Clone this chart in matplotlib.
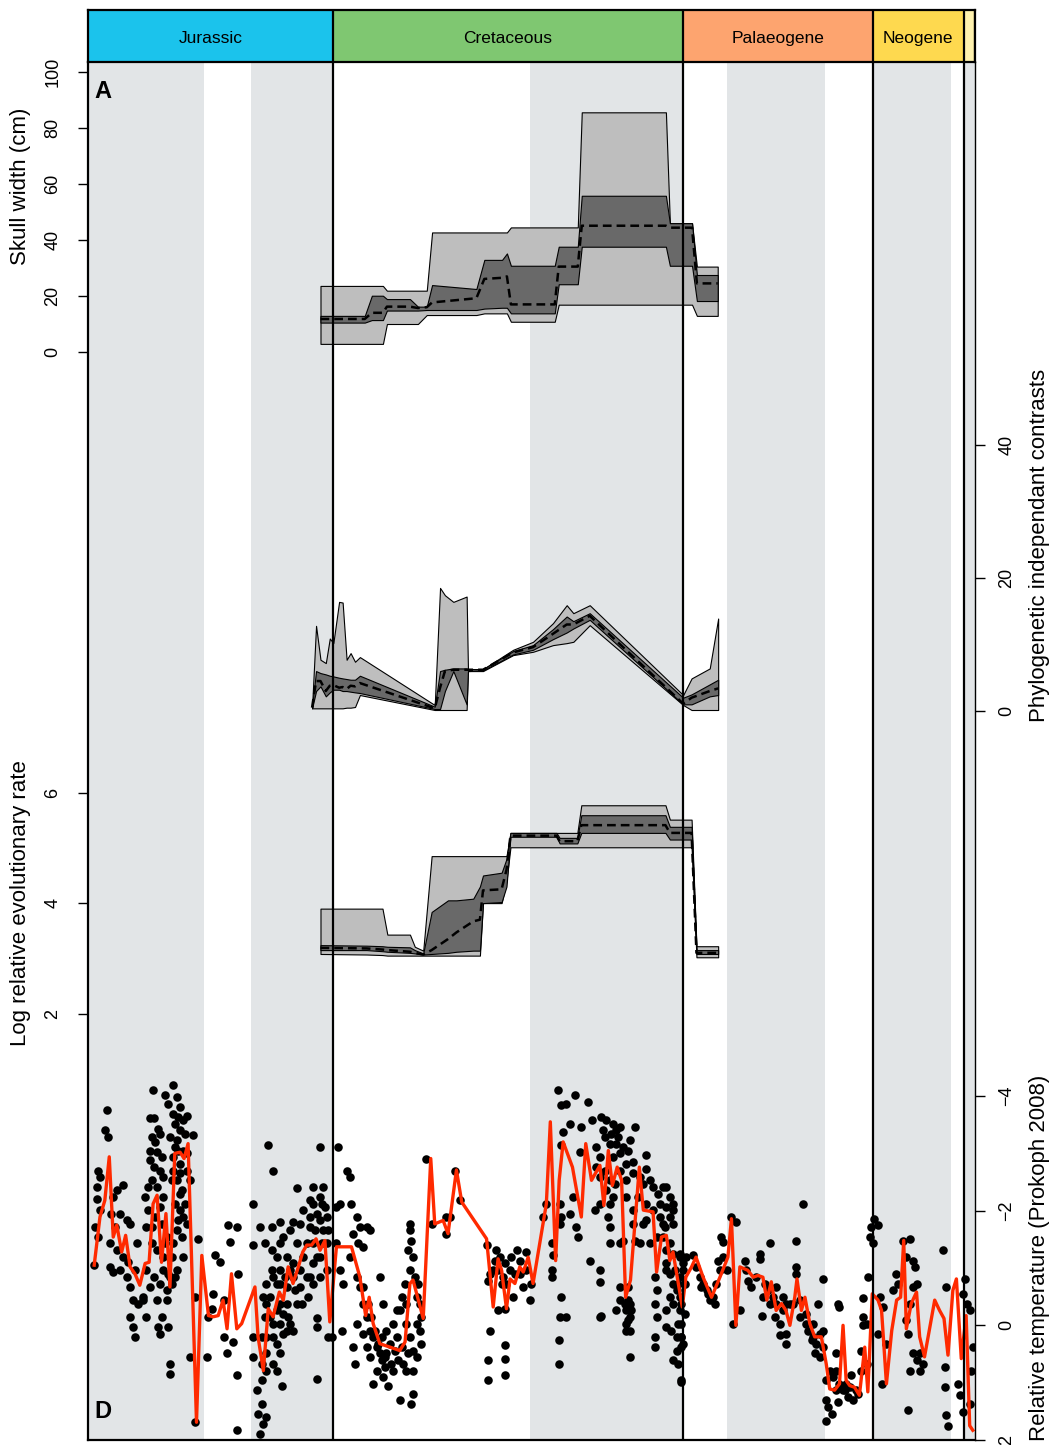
#%% Import the required libraries
import numpy as np
import matplotlib
matplotlib.use('Agg')
import matplotlib.pyplot as plt

plt.rcParams['font.family'] = ['Liberation Sans', 'DejaVu Sans']

#%% Time scale (Ma)
period_names = ['Jurassic', 'Cretaceous', 'Palaeogene', 'Neogene', '']
period_start = [201.3, 145.0, 66.0, 23.03, 2.58]
period_end = [145.0, 66.0, 23.03, 2.58, 0.0]
period_colors = ['#1BC3EC', '#7FC771', '#FDA46F', '#FED94F', '#FFF2AE']

# epoch boundaries, every other epoch is shaded
epoch_bounds = [201.3, 174.1, 163.5, 145.0, 100.5, 66.0, 56.0, 33.9, 23.03, 5.333, 2.58, 0.0]

#%% Panel A: skull width (cm)
a_age = [147.8, 137.8, 136.2, 133.7, 132.8, 127.6, 125.8, 123.8, 122.6, 112.6, 110.8, 106.8,
         105.7, 104.8, 94.9, 94.0, 89.7, 88.8, 69.8, 68.9, 63.9, 62.8, 58.1]
a_outer_hi = [23.6, 23.6, 23.6, 23.6, 21.9, 21.9, 21.9, 21.9, 42.7, 42.7, 42.7, 42.7,
              42.7, 44.5, 44.5, 44.5, 44.5, 85.6, 85.6, 46.0, 46.0, 30.5, 30.5]
a_outer_lo = [2.9, 2.9, 2.9, 2.9, 10.0, 10.0, 10.0, 13.2, 13.2, 13.2, 13.8, 13.8,
              13.8, 10.8, 10.8, 16.9, 16.9, 16.9, 16.9, 16.9, 16.9, 12.9, 12.9]
a_inner_hi = [12.9, 12.9, 20.1, 20.1, 18.9, 18.9, 16.2, 16.2, 23.9, 22.5, 32.9, 32.9,
              35.2, 30.8, 30.8, 37.6, 37.6, 55.8, 55.8, 46.0, 46.0, 27.5, 27.5]
a_inner_lo = [10.5, 10.5, 11.4, 11.4, 14.8, 14.8, 14.8, 15.0, 15.0, 15.0, 15.5, 15.8,
              15.8, 13.8, 13.8, 24.2, 24.2, 37.6, 37.6, 30.8, 30.8, 18.2, 18.2]
a_median = [11.8, 11.8, 14.0, 14.0, 16.2, 16.2, 15.7, 16.0, 17.7, 19.2, 26.1, 26.5,
            27.0, 17.0, 17.0, 30.5, 30.5, 45.1, 45.1, 44.4, 44.4, 24.5, 24.5]

#%% Panel B: phylogenetic independent contrasts
b_age = [149.7, 148.8, 147.8, 146.6, 145.7, 144.9, 143.6, 142.8, 141.9, 141.0, 140.0, 138.9,
         122.0, 120.8, 119.7, 117.8, 114.8, 114.5, 111.1, 104.3, 99.8, 95.3, 92.2, 90.7,
         87.0, 65.9, 64.0, 59.9, 58.0]
b_outer_hi = [0.65, 12.8, 7.7, 7.2, 10.9, 10.2, 16.4, 16.3, 7.7, 8.7, 7.4, 8.1,
              0.9, 18.5, 17.4, 16.4, 17.2, 6.3, 6.3, 9.2, 10.4, 13.2, 15.9, 14.7,
              15.9, 2.4, 4.9, 6.4, 13.9]
b_outer_lo = [0.4, 0.4, 0.4, 0.4, 0.4, 0.4, 0.4, 0.4, 0.5, 0.5, 0.6, 2.4,
              0.15, 0.15, 0.15, 0.15, 0.15, 6.0, 6.0, 8.4, 8.9, 9.9, 10.2, 10.4,
              12.9, 0.9, 0.15, 0.15, 0.15]
b_inner_hi = [0.65, 6.0, 5.7, 5.5, 5.3, 5.2, 5.0, 4.9, 4.8, 4.7, 4.7, 5.3,
              0.65, 6.0, 6.2, 6.4, 6.4, 6.3, 6.3, 9.0, 9.9, 12.3, 14.2, 13.5,
              14.7, 2.0, 2.5, 4.0, 4.7]
b_inner_lo = [0.4, 3.0, 3.7, 2.2, 2.8, 3.2, 3.2, 3.0, 3.0, 2.9, 2.8, 2.7,
              0.3, 0.3, 3.0, 6.0, 1.0, 6.0, 6.1, 8.5, 9.2, 10.8, 11.8, 12.4,
              13.7, 1.0, 1.0, 2.2, 2.4]
b_median = [0.5, 4.5, 4.5, 3.0, 3.8, 3.9, 3.5, 3.6, 3.3, 3.8, 3.7, 4.2,
            0.4, 3.5, 6.0, 6.2, 6.2, 6.2, 6.2, 8.8, 9.6, 11.6, 13.0, 13.0,
            14.3, 1.1, 2.0, 3.0, 3.4]

#%% Panel C: log relative evolutionary rate
c_age = [147.8, 137.4, 133.8, 132.7, 127.6, 126.5, 124.6, 122.7, 119.0, 117.1, 113.3, 111.8,
         111.1, 106.9, 105.8, 104.9, 94.5, 93.8, 89.8, 88.9, 69.9, 68.9, 64.0, 62.9, 58.0]
c_outer_hi = [3.90, 3.90, 3.90, 3.43, 3.43, 3.21, 3.14, 4.85, 4.85, 4.85, 4.85, 4.85,
              4.85, 4.85, 4.85, 5.27, 5.27, 5.27, 5.27, 5.77, 5.77, 5.51, 5.51, 3.22, 3.22]
c_outer_lo = [3.08, 3.07, 3.06, 3.05, 3.05, 3.05, 3.05, 3.05, 3.05, 3.05, 3.05, 3.05,
              4.00, 4.00, 4.40, 5.01, 5.01, 5.01, 5.01, 5.01, 5.01, 5.01, 5.01, 3.02, 3.02]
c_inner_hi = [3.24, 3.23, 3.22, 3.21, 3.20, 3.15, 3.09, 3.84, 4.05, 4.05, 4.08, 4.30,
              4.50, 4.55, 4.80, 5.27, 5.27, 5.18, 5.18, 5.59, 5.59, 5.38, 5.38, 3.15, 3.15]
c_inner_lo = [3.15, 3.15, 3.13, 3.12, 3.10, 3.09, 3.07, 3.08, 3.10, 3.12, 3.14, 3.14,
              4.00, 4.02, 4.30, 5.20, 5.20, 5.08, 5.08, 5.27, 5.27, 5.15, 5.15, 3.08, 3.08]
c_median = [3.19, 3.18, 3.16, 3.15, 3.12, 3.10, 3.07, 3.15, 3.35, 3.47, 3.67, 3.70,
            4.23, 4.25, 4.60, 5.22, 5.22, 5.12, 5.12, 5.41, 5.41, 5.27, 5.27, 3.10, 3.10]

#%% Panel D: relative temperature (Prokoph 2008), smoothed curve
t_age = [198.9, 197.6, 196.5, 195.5, 194.6, 193.8, 192.7, 191.8, 190.8, 189.7, 188.6, 187.4,
         186.5, 185.6, 184.7, 183.7, 182.7, 181.8, 180.7, 179.5, 178.6, 177.7, 175.8, 174.6,
         173.1, 172.0, 170.9, 169.8, 168.9, 167.9, 166.7, 165.6, 162.6, 161.9, 160.7, 159.6,
         158.5, 157.1, 156.2, 155.1, 154.0, 152.8, 151.8, 150.9, 149.8, 148.8, 147.9, 146.8,
         145.7, 144.2, 140.8, 138.9, 137.6, 136.8, 135.9, 134.4, 132.1, 129.9, 128.7, 127.6,
         126.9, 124.6, 122.9, 122.0, 120.1, 119.0, 117.1, 115.9, 110.3, 108.8, 107.7, 106.9,
         105.8, 105.0, 103.9, 102.8, 102.0, 100.9, 99.8, 98.3, 96.8, 95.9, 94.7, 93.9,
         93.0, 90.9, 88.9, 87.9, 86.6, 84.7, 83.8, 82.8, 81.9, 80.8, 79.8, 78.9,
         77.8, 75.8, 74.9, 72.7, 71.9, 70.8, 69.7, 68.9, 68.2, 67.0, 66.1, 65.3,
         64.0, 63.0, 61.4, 59.5, 57.6, 55.8, 55.0, 54.0, 53.1, 51.3, 50.1, 49.0,
         47.9, 47.0, 46.0, 44.9, 43.7, 42.7, 41.8, 40.7, 40.2, 39.2, 38.4, 37.3,
         36.2, 34.7, 33.6, 32.8, 31.7, 30.6, 29.8, 29.1, 28.3, 27.2, 26.1, 24.9,
         24.2, 23.2, 21.9, 21.1, 20.0, 18.8, 17.7, 16.8, 16.1, 15.5, 14.4, 13.2,
         12.5, 11.4, 10.2, 9.1, 8.0, 7.0, 6.1, 5.0, 4.2, 3.1, 2.0, 1.2, 0.5]
t_curve = [-1.05, -1.89, -2.18, -2.94, -1.54, -1.75, -1.28, -1.57, -1.02, -0.90, -0.70, -1.08,
           -1.10, -2.12, -2.27, -1.10, -1.95, -0.67, -3.00, -3.02, -2.91, -3.17, 1.69, -1.22,
           -0.17, -0.15, -0.17, -0.44, 0.06, -0.90, 0.06, -0.03, -0.67, 0.20, 0.79, -0.29,
           -0.15, -0.58, -0.44, -1.02, -0.73, -1.02, -1.28, -1.40, -1.40, -1.51, -1.31, -1.48,
           -0.06, -1.37, -1.37, -0.84, -0.17, -0.49, -0.03, 0.32, 0.38, 0.44, 0.29, -0.73,
           -0.79, -0.12, -2.91, -1.77, -1.83, -1.60, -2.71, -2.15, -1.51, -0.32, -1.16, -0.96,
           -0.29, -0.81, -0.73, -1.02, -0.93, -1.19, -0.73, -1.43, -2.12, -3.55, -1.13, -2.53,
           -3.20, -2.76, -1.89, -3.17, -2.53, -2.79, -2.09, -3.05, -2.44, -2.76, -2.53, -0.49,
           -0.79, -2.76, -2.01, -1.98, -0.93, -1.54, -1.57, -1.13, -1.28, -0.73, -0.32, -0.84,
           -1.02, -1.19, -0.84, -0.49, -0.84, -1.19, -1.86, 0.00, -1.02, -0.96, -0.84, -0.87,
           -0.84, -0.44, -0.76, -0.26, -0.38, -0.26, 0.00, -0.49, -0.81, -0.26, -0.49, -0.03,
           0.20, 0.20, 0.67, 1.11, 1.13, 1.02, 0.00, 0.96, 1.05, 1.08, 1.22, 0.38,
           1.16, -0.55, -0.44, -0.26, 1.02, 0.09, -0.44, -0.49, -1.48, 0.06, -0.38, -0.58,
           0.20, 0.55, 0.03, -0.44, -0.26, -0.12, 0.52, -0.61, -0.81, 0.58, -0.17, 1.75, 1.83]

# individual temperature estimates, Jurassic
jur_age = [196.1, 196.5, 195.7, 198.0, 197.6, 198.3, 198.3, 197.6, 198.7, 198.0, 198.9, 194.6,
           193.8, 192.3, 195.0, 193.1, 191.6, 194.2, 190.8, 195.3, 193.8, 192.3, 191.2, 189.3,
           189.7, 193.1, 195.3, 194.6, 191.6, 190.8, 190.1, 188.9, 187.8, 190.8, 190.1, 189.7,
           187.1, 186.3, 185.5, 185.9, 185.2, 184.0, 186.3, 184.8, 183.7, 186.3, 184.0, 185.9,
           184.8, 183.3, 187.4, 186.7, 185.2, 183.7, 187.1, 182.5, 185.9, 184.8, 183.3, 187.1,
           185.5, 184.0, 182.5, 181.4, 186.3, 187.8, 184.8, 182.5, 183.7, 184.4, 182.2, 184.0,
           185.7, 182.9, 181.0, 182.2, 180.3, 181.0, 179.5, 178.0, 180.7, 179.5, 181.8, 180.3,
           176.5, 178.8, 181.0, 179.5, 178.0, 177.3, 180.3, 179.1, 180.7, 179.5, 178.8, 178.0,
           180.3, 179.1, 181.4, 180.3, 181.8, 179.5, 181.0, 179.9, 178.8, 181.8, 181.8, 177.3,
           176.1, 175.4, 176.1, 171.6, 170.5, 168.6, 166.7, 168.2, 172.0, 172.4, 169.7, 166.4,
           173.1, 169.7, 167.5, 169.0, 173.5, 166.7, 166.7, 163.0, 163.0, 159.6, 158.5, 147.9,
           161.5, 160.3, 158.8, 156.9, 156.2, 153.9, 153.2, 152.4, 149.4, 150.2, 147.9, 146.8,
           148.7, 150.9, 150.2, 147.9, 146.4, 147.2, 149.4, 146.0, 145.3, 148.7, 148.7, 163.0,
           160.7, 160.0, 158.8, 157.7, 156.9, 158.5, 160.0, 157.7, 156.2, 154.7, 153.2, 153.9,
           150.6, 156.9, 158.5, 160.0, 161.1, 162.2, 161.1, 161.9, 160.7, 161.5, 160.0, 156.6,
           148.7, 163.0, 158.8, 157.7, 156.9, 155.4, 154.7, 155.4, 153.9, 152.4, 151.7, 152.4,
           150.9, 149.4, 147.9, 149.4, 146.4, 147.9, 146.4, 149.4, 147.2, 160.0, 159.2, 157.7,
           155.4, 156.2, 158.5, 160.0, 161.1, 157.7, 153.9, 153.2, 156.9, 154.7, 151.7,
           181.4, 179.9, 178.4, 180.7, 178.0, 179.5, 178.4, 179.9, 181.0, 178.8, 180.7, 182.2,
           183.3, 182.9, 184.4, 185.5, 183.3, 186.7, 184.0, 185.9, 156.9, 155.4, 159.2, 155.8,
           153.6, 152.0, 150.2, 148.7, 147.5, 149.0, 150.2, 147.5, 146.0, 156.9, 158.5, 160.3,
           161.1, 155.1]
jur_temp = [-3.75, -3.40, -3.29, -2.70, -2.59, -2.41, -2.21, -2.01, -1.72, -1.54, -1.05, -2.24,
            -2.36, -2.44, -1.95, -1.95, -1.83, -1.72, -1.77, -1.43, -1.31, -1.19, -1.10, -1.43,
            -0.96, -0.96, -1.02, -0.93, -0.84, -0.67, -0.44, -0.38, -0.44, -0.15, 0.03, 0.20,
            -0.15, -3.61, -3.61, -3.29, -3.20, -3.34, -3.05, -3.03, -2.94, -2.88, -2.70, -2.53,
            -2.41, -2.24, -2.24, -2.01, -1.89, -1.77, -1.72, -1.54, -1.43, -1.31, -1.19, -0.96,
            -0.84, -0.73, -0.61, -0.73, -0.67, -0.49, -0.44, -0.44, -0.15, 0.03, 0.03, 0.15,
            -4.10, -4.01, -4.19, -3.87, -3.98, -3.69, -3.81, -3.66, -3.52, -3.40, -3.29, -3.23,
            -3.32, -3.05, -2.94, -2.82, -2.70, -2.53, -2.53, -2.36, -2.12, -2.01, -1.89, -1.77,
            -1.66, -1.54, -1.19, -0.96, -0.84, -2.30, -2.70, -3.05, -3.58, 0.67, 0.84, 0.55,
            1.69, -1.51, -0.49, -1.22, -1.10, -1.75, -1.72, -1.45, -0.55, -0.29, -0.44, -0.90,
            -0.15, 0.20, 0.29, 0.49, 0.55, 0.87, 1.83, -1.40, -2.12, -3.14, -2.70, -3.11,
            -1.72, -1.43, -1.72, -1.80, -1.54, -1.80, -2.39, -1.77, -2.41, -2.18, -2.24, -2.07,
            -1.95, -1.43, -1.72, -1.19, -0.96, -1.66, -1.08, 0.20, 0.20, -0.12, 0.03, 0.20,
            -0.49, -0.73, -0.96, -0.73, -0.38, -0.03, 0.20, 0.32, 0.15, -0.03, -0.38, 0.09,
            -0.49, 0.49, 0.67, 0.79, 0.96, 1.13, 1.37, 1.54, 1.72, 1.89, 1.60, 1.05,
            0.93, 0.55, -1.31, -1.19, -0.96, -1.19, -0.96, -0.67, -0.84, -0.96, -1.19, -0.67,
            -0.84, -0.73, -0.84, -1.43, -1.43, -1.83, -1.89, -2.12, -2.41, -0.38, -0.15, -0.26,
            -0.38, -0.20, 0.20, 0.49, 0.67, 0.79, -1.08, -1.43, -1.43, -1.66, -2.01,
            -2.53, -3.64, -3.34, -3.11, -3.00, -2.65, -2.12, -1.83, -1.43, -1.19, -0.84, -0.90,
            -0.96, -1.43, -3.43, -2.76, -2.59, -2.41, -2.07, -1.72, -0.03, 0.09, -0.49, -0.84,
            -0.61, -0.38, -0.84, -1.19, -1.43, -1.66, -1.89, -2.12, -1.66, -0.73, -0.84, -0.15,
            0.20, -0.15]

# individual temperature estimates, Cretaceous
cre_age = [143.8, 141.9, 141.1, 140.8, 139.6, 138.9, 137.4, 140.4, 139.3, 138.1, 136.6, 143.4,
           144.2, 143.4, 141.1, 139.6, 138.9, 138.1, 137.4, 136.6, 135.9, 135.1, 134.4, 139.6,
           138.1, 140.4, 140.0, 137.4, 136.6, 135.1, 135.9, 144.2, 143.0, 142.7,
           134.4, 133.6, 134.0, 132.9, 131.4, 132.1, 130.6, 133.3, 131.8, 130.3, 129.1, 133.6,
           132.5, 129.9, 127.3, 126.9, 129.9, 128.4, 130.6, 128.4, 127.6, 126.1, 125.4, 125.0,
           126.9, 128.0, 127.6, 127.6, 127.3, 128.0, 126.9, 127.6, 126.5, 125.7, 126.1, 125.4,
           125.0, 128.8, 129.5, 123.9, 122.7, 119.4, 118.6, 119.4, 117.5, 116.3, 110.3, 110.0,
           109.6, 110.0, 110.0, 108.1, 107.7, 107.3, 106.2, 106.6, 105.8, 105.1, 103.5, 102.8,
           101.3, 102.0, 100.5, 104.3, 107.7, 106.2, 106.2, 106.2, 106.2, 108.8, 108.4, 104.7,
           102.8, 101.3, 100.2, 103.9, 106.9, 109.6,
           97.5, 96.8, 95.6, 95.6, 95.6, 95.3, 94.1, 93.4, 92.3, 91.5, 93.0, 93.4,
           90.4, 87.4, 86.6, 88.9, 89.3, 90.8, 91.5, 93.8, 93.4, 90.0, 89.6, 93.8,
           93.4, 93.8, 92.3, 93.9, 93.9, 87.0, 85.9, 84.7, 84.7, 84.7, 84.4, 83.3,
           81.7, 81.0, 80.2, 83.6, 82.5, 81.0, 84.7, 81.7, 80.2, 78.0, 76.8, 78.3,
           78.7, 77.2, 74.2, 74.2, 75.7, 78.7, 75.0, 84.7, 83.3, 82.5, 82.9, 82.5,
           82.5, 81.7, 81.3, 84.7, 85.5, 73.5, 72.7, 71.6, 70.4, 69.7, 71.2, 69.7,
           68.2, 68.9, 68.2, 70.4, 71.9, 74.2, 75.0, 73.5, 77.2, 80.2, 79.5, 76.8,
           75.7, 70.4, 69.7, 68.2, 66.7, 65.9, 69.7, 68.9, 68.2, 67.4, 66.7, 68.2,
           66.7, 67.1, 66.3, 65.9, 67.4, 68.2, 67.1, 66.3, 67.4, 72.3, 71.9, 72.3,
           71.9, 72.3, 72.3, 69.7, 78.0, 78.7, 78.3, 78.7, 78.0, 80.2, 81.0, 79.1,
           78.0, 80.2, 84.5, 69.7, 68.9, 68.2,
           138.1, 137.0, 136.3, 135.5, 134.8, 134.0, 132.9, 131.0, 129.5, 131.4, 133.3, 128.4,
           126.9, 126.1, 84.0, 82.1, 80.6, 79.5, 85.5, 83.6, 80.2, 77.2, 82.5, 78.7,
           76.1, 77.2, 74.2, 72.7, 71.2, 70.1, 68.9, 67.8, 67.1, 68.9, 69.7, 68.6,
           66.3, 78.3, 78.3, 77.6, 78.7, 78.0]
cre_temp = [-3.11, -2.70, -2.59, -2.12, -1.89, -1.72, -1.72, -1.60, -1.43, -1.37, -1.66, -2.12,
            -1.43, -0.96, -1.19, -0.84, -0.67, -0.38, -0.15, 0.09, 0.20, 0.38, 0.49, -0.03,
            0.15, 0.38, 0.67, 0.38, 0.55, 0.79, 1.02, -2.07, 0.09, -0.73,
            -0.84, -0.38, 0.20, 0.09, -0.03, 0.32, 0.20, 0.55, 0.67, 0.61, 0.67, 0.90,
            1.05, 1.31, 1.37, 1.19, -0.26, -0.38, -0.26, -0.03, 0.20, -0.03, 0.09, 0.32,
            0.44, 0.49, -1.77, -1.66, -1.48, -1.31, -1.19, -0.96, -0.84, -0.73, -0.49, -0.38,
            -0.15, -0.73, -0.49, -2.91, -1.77, -1.89, -1.89, -1.60, -2.70, -2.18, -1.40, -0.78,
            0.09, 0.61, 0.96, -1.31, -0.96, -1.19, -1.08, -0.84, -0.73, -0.96, -1.31, -1.13,
            -1.28, -0.67, -0.44, -0.49, -0.26, -0.29, 0.35, 0.58, 0.87, -0.96, -1.13, -1.19,
            -0.90, -0.96, -0.73, -0.90, -0.73, -0.90,
            -1.89, -2.12, -1.43, -0.96, -0.84, -1.22, -4.10, -3.84, -3.87, -3.52, -3.37, -3.14,
            -4.01, -3.90, -3.58, -3.46, -3.03, -2.24, -1.95, -2.12, -1.89, -1.72, -1.54, -1.77,
            -0.49, -0.15, -0.15, 0.26, 0.67, -1.13, -2.01, -0.96, -0.76, -0.15, -3.64, -3.58,
            -3.52, -3.40, -3.46, -3.29, -3.17, -3.17, -2.94, -2.94, -3.00, -3.23, -3.46, -3.05,
            -2.82, -2.85, -2.97, -2.73, -2.59, -2.53, -2.47, -2.59, -2.36, -2.12, -1.89, -1.72,
            -1.43, -2.24, -2.47, -2.12, -2.76, -2.53, -2.41, -2.30, -2.41, -2.41, -2.12, -2.07,
            -2.01, -1.89, -1.77, -1.77, -1.54, -1.83, -1.77, -1.43, -1.77, -1.43, -1.48, -1.48,
            -1.43, -1.54, -1.31, -1.25, -1.19, -1.08, -1.08, -0.90, -0.73, -0.61, -0.49, -0.38,
            -0.26, -0.03, 0.20, 0.32, 0.44, 0.61, 0.67, 0.99, 0.20, -0.84, -0.61, -0.38,
            -0.15, 0.20, 0.38, 0.03, -0.38, -0.26, -0.09, 0.09, 0.55, -0.44, -0.26, -0.38,
            -0.15, -0.67, -0.17, -0.96, -2.24, -2.12,
            -0.67, -0.38, -0.15, 0.09, 0.32, 0.61, 0.49, 0.44, 0.38, 0.79, 0.73, 0.79,
            0.79, 0.55, -3.40, -3.34, -3.29, -3.11, -3.11, -2.70, -2.70, -2.65, -2.53, -2.24,
            -2.24, -2.01, -2.12, -2.01, -1.89, -1.72, -1.43, -0.96, -0.73, -0.49, -0.26, 0.09,
            -0.03, -0.67, -0.44, -0.26, -0.03, 0.09]

# individual temperature estimates, Cenozoic
cen_age = [66.7, 66.7, 65.9, 65.5, 66.3, 65.5, 66.3, 66.3, 66.3, 65.2, 63.7, 62.2,
           61.8, 60.6, 59.9, 58.8, 58.4, 57.6, 58.0, 57.3, 56.9, 55.0, 53.9, 54.6,
           53.1, 52.0, 51.2, 50.5, 48.6, 48.6, 48.2, 46.4, 47.5, 46.4, 45.6, 45.2,
           44.9, 44.1, 44.1, 42.6, 42.6, 43.4, 41.8, 40.4, 40.4, 40.4, 38.8, 39.6,
           38.1, 37.7, 36.9, 35.8, 35.5, 34.3, 34.3, 35.1, 33.6, 33.6, 33.2, 33.6,
           32.4, 31.3, 31.3, 30.9, 30.9, 30.6, 29.8, 29.1, 27.9, 27.5, 26.8, 25.7,
           25.7, 25.3, 25.3, 25.4, 24.5, 23.8, 23.4, 23.0, 22.7, 21.9, 21.5, 20.8,
           21.9, 21.1, 20.0, 18.5, 17.8, 17.4, 16.3, 14.7, 15.5, 14.0, 13.6, 14.0,
           13.2, 15.2, 14.7, 14.0, 13.2, 12.5, 11.8, 12.5, 15.5, 15.1, 14.7, 7.2,
           6.5, 6.8, 6.8, 6.5, 6.1, 3.8, 3.5, 2.3, 2.7, 1.9, 1.2, 0.5,
           0.8, 2.7, 1.2, 24.5, 24.2, 36.6, 35.1, 36.2, 34.3, 32.8, 32.1, 30.6,
           29.4, 28.3, 26.4, 31.3, 28.7, 62.9, 61.4, 60.3, 59.1, 56.9, 56.1, 51.6,
           49.4, 47.9, 46.7, 44.9, 43.4, 41.1, 39.6, 42.6, 38.1, 36.6]
cen_temp = [-1.25, -0.84, -0.96, -0.73, -0.38, -0.20, 0.20, 0.38, 0.96, -1.19, -1.22, -0.84,
            -0.67, -0.61, -0.44, -0.38, -0.73, -0.96, -1.13, -1.54, -1.45, -1.89, -1.80, -0.03,
            -0.26, -1.13, -0.78, -0.67, -1.25, -1.16, -0.17, -1.43, -0.73, -0.38, -0.49, -0.15,
            -0.38, -0.03, 0.17, 0.15, 0.32, -0.26, -0.38, -1.48, -1.02, -0.90, -2.12, -0.44,
            -0.20, 0.09, 0.26, 0.32, -0.38, -0.81, 0.09, 0.55, 0.96, 1.31, 1.43, 1.66,
            1.54, 0.49, 0.79, 1.34, -0.38, -0.32, 1.13, 1.02, 0.87, 1.31, 1.13, 0.44,
            0.79, -0.15, 0.00, -0.47, 0.67, -1.54, -1.72, -1.43, -1.86, -1.75, -0.49, -0.32,
            0.15, 1.02, 0.32, -0.61, -0.90, -0.73, -1.48, -1.51, -1.19, -1.13, -1.02, -0.67,
            -0.73, 1.48, 0.79, 0.49, 0.61, 0.49, 0.67, 0.79, -0.09, 0.15, -0.38, -1.31,
            -0.67, 0.73, 1.08, 1.57, 1.75, 1.02, 1.22, -0.81, -0.55, -0.38, -0.26, 0.38,
            0.79, 1.51, 1.37, -0.03, -0.84, 0.20, 0.15, 0.49, 0.38, 0.79, 0.90, 1.02,
            1.13, 1.08, 1.19, 1.13, 1.25, -1.02, -0.73, -0.55, -0.49, -1.19, -0.96, -0.96,
            -0.84, -0.49, -0.61, -0.67, -0.49, -0.38, -0.15, -0.38, -0.03, -0.03]

#%% Figure layout (pixel boxes converted to figure fractions)
W, H = 1056, 1445
fig = plt.figure(figsize=(W / 100, H / 100), dpi=100)

def box(x0, y0, x1, y1):
    return [x0 / W, 1 - y1 / H, (x1 - x0) / W, (y1 - y0) / H]

XLIM = (200.3, 0.0)
SHADE = '#E2E5E7'
LW = 1.6

# background with alternating epoch bands
bg = fig.add_axes(box(88, 62, 975, 1440))
bg.set_xlim(XLIM)
bg.set_ylim(0, 1)
for i in range(0, len(epoch_bounds) - 1, 2):
    bg.axvspan(epoch_bounds[i], epoch_bounds[i + 1], color=SHADE, lw=0)
bg.axis('off')

# period bar
bar = fig.add_axes(box(88, 10, 975, 62))
bar.set_xlim(XLIM)
bar.set_ylim(0, 1)
for name, s, e, col in zip(period_names, period_start, period_end, period_colors):
    bar.axvspan(s, e, color=col, lw=0)
    bar.axvline(e, color='black', lw=LW)
    if name:
        mid = (min(s, XLIM[0]) + e) / 2
        bar.text(mid, 0.46, name, ha='center', va='center', fontsize=12.5)
bar.set_xticks([])
bar.set_yticks([])
for sp in bar.spines.values():
    sp.set_linewidth(LW)

def style_axis(ax, side, ticks):
    ax.set_xlim(XLIM)
    ax.patch.set_alpha(0)
    for sp in ax.spines.values():
        sp.set_visible(False)
    ax.set_xticks([])
    ax.set_yticks(ticks)
    if side == 'left':
        ax.yaxis.tick_left()
        pad = 12
    else:
        ax.yaxis.tick_right()
        pad = 10
    ax.tick_params(axis='y', direction='out', length=7, width=1, pad=pad,
                   labelsize=13, labelrotation=90)
    for lab in ax.get_yticklabels():
        lab.set_va('center')

def envelope(ax, age, olo, ohi, ilo, ihi, med):
    ax.fill_between(age, olo, ohi, facecolor='#BEBEBE', edgecolor='black', linewidth=0.8)
    ax.fill_between(age, ilo, ihi, facecolor='#696969', edgecolor='black', linewidth=0.8)
    ax.plot(age, med, color='black', lw=1.8, linestyle=(0, (3.5, 2)))

# panel A
axA = fig.add_axes(box(88, 72, 975, 352))
axA.set_ylim(0, 100)
style_axis(axA, 'left', [0, 20, 40, 60, 80, 100])
envelope(axA, a_age, a_outer_lo, a_outer_hi, a_inner_lo, a_inner_hi, a_median)

# panel B
axB = fig.add_axes(box(88, 365, 975, 711))
axB.set_ylim(0, 52)
style_axis(axB, 'right', [0, 20, 40])
envelope(axB, b_age, b_outer_lo, b_outer_hi, b_inner_lo, b_inner_hi, b_median)

# panel C
axC = fig.add_axes(box(88, 724, 975, 1080))
axC.set_ylim(0.8, 7.24)
style_axis(axC, 'left', [2, 4, 6])
envelope(axC, c_age, c_outer_lo, c_outer_hi, c_inner_lo, c_inner_hi, c_median)

# panel D
axD = fig.add_axes(box(88, 1080, 975, 1440))
axD.set_ylim(2, -4.28)
style_axis(axD, 'right', [-4, -2, 0, 2])
for ages, temps in [(jur_age, jur_temp), (cre_age, cre_temp), (cen_age, cen_temp)]:
    axD.scatter(ages, temps, s=38, color='black', linewidths=0, zorder=2)
axD.plot(t_age, t_curve, color='#FF2A00', lw=2.4, zorder=3)

# overlay: period boundaries and frame on top of everything
ov = fig.add_axes(box(88, 62, 975, 1440))
ov.set_xlim(XLIM)
ov.set_ylim(0, 1)
ov.patch.set_alpha(0)
for e in period_end[:-1]:
    ov.axvline(e, color='black', lw=LW)
ov.set_xticks([])
ov.set_yticks([])
ov.spines['top'].set_visible(False)
for side in ['left', 'bottom']:
    ov.spines[side].set_linewidth(LW)
ov.spines['right'].set_linewidth(1.0)

#%% Labels
fig.text(103 / W, 1 - 91 / H, 'A', fontsize=17, fontweight='bold', ha='center', va='center')
fig.text(103 / W, 1 - 1411 / H, 'D', fontsize=17, fontweight='bold', ha='center', va='center')
fig.text(21 / W, 1 - 186 / H, 'Skull width (cm)', rotation=90, fontsize=16,
         ha='center', va='center')
fig.text(21 / W, 1 - 903 / H, 'Log relative evolutionary rate', rotation=90, fontsize=16,
         ha='center', va='center')
fig.text(1040 / W, 1 - 545 / H, 'Phylogenetic independant contrasts', rotation=90,
         fontsize=16, ha='center', va='center')
fig.text(1040 / W, 1 - 1258 / H, 'Relative temperature (Prokoph 2008)', rotation=90,
         fontsize=16, ha='center', va='center')

fig.savefig('out.png', dpi=100)
